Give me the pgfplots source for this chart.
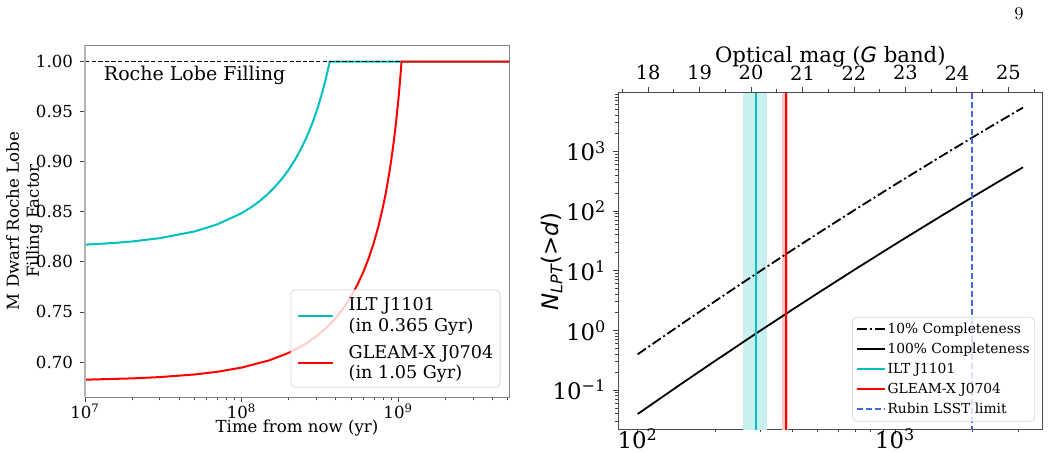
\documentclass[border=0pt]{standalone}
\usepackage{fontspec}
\setmainfont{DejaVu Serif}
\newfontfamily\dvsans{DejaVu Sans}
\newfontfamily\lmroman{Latin Modern Roman}
\usepackage{pgfplots}
\usepackage{pgfplotstable}
\pgfplotsset{compat=1.18}

\definecolor{mplcyan}{HTML}{00BFBF}
\definecolor{mplred}{HTML}{FF0000}
\definecolor{lsstblue}{HTML}{4169E1}
\definecolor{cyanband}{HTML}{C8F0F0}
\definecolor{redband}{HTML}{FFC8C8}

% Roche lobe filling factor versus time from now
\pgfplotstableread{
t f
1e7    0.8172
1.5e7  0.8188
2e7    0.8204
3e7    0.8237
5e7    0.8304
7e7    0.8375
1e8    0.8487
1.15e8 0.8545
1.3e8  0.8606
1.45e8 0.8669
1.6e8  0.8735
1.8e8  0.8826
2e8    0.8922
2.2e8  0.9024
2.4e8  0.9132
2.55e8 0.9217
2.7e8  0.9307
2.85e8 0.9400
3.0e8  0.9499
3.1e8  0.9568
3.2e8  0.9640
3.3e8  0.9714
3.4e8  0.9791
3.45e8 0.9831
3.5e8  0.9871
3.55e8 0.9913
3.6e8  0.9955
3.62e8 0.9972
3.65e8 1.0000
5.1e9  1.0000
}\iltfill

\pgfplotstableread{
t f
1e7     0.6823
2e7     0.6836
3e7     0.6849
5e7     0.6875
7e7     0.6902
1e8     0.6944
1.5e8   0.7016
2e8     0.7091
2.5e8   0.7171
3e8     0.7256
3.5e8   0.7346
4e8     0.7442
4.5e8   0.7545
5e8     0.7655
5.5e8   0.7774
6e8     0.7902
6.5e8   0.8042
7e8     0.8195
7.5e8   0.8364
8e8     0.8552
8.25e8  0.8654
8.5e8   0.8763
8.75e8  0.8879
9e8     0.9003
9.25e8  0.9136
9.5e8   0.9280
9.75e8  0.9436
1.0e9   0.9606
1.015e9 0.9715
1.03e9  0.9832
1.04e9  0.9913
1.05e9  1.0000
5.1e9   1.0000
}\gleamfill

% cumulative number of LPTs within distance d (pc)
\pgfplotstableread{
d    n100    n10
100  0.0396  0.396
150  0.1327  1.327
200  0.3084  3.084
300  0.9920  9.920
400  2.241   22.41
500  4.181   41.81
700  10.57   105.7
1000 27.73   277.3
1500 81.23   812.3
2000 171.7   1717
2500 304.4   3044
3133 539.0   5390
}\lptcount

\begin{document}
\begin{tikzpicture}
\useasboundingbox (0,0) rectangle (525pt,226pt);

% ---------------- left panel ----------------
\begin{axis}[
  at={(42.5pt,27.5pt)}, anchor=south west, scale only axis,
  width=212pt, height=176pt,
  xmode=log, xmin=1e7, xmax=5.1e9, ymin=0.665, ymax=1.0167,
  xtick={1e7,1e8,1e9},
  xticklabels={10\textsuperscript{7},10\textsuperscript{8},10\textsuperscript{9}},
  minor xtick={2e7,3e7,4e7,5e7,6e7,7e7,8e7,9e7,2e8,3e8,4e8,5e8,6e8,7e8,8e8,9e8,2e9,3e9,4e9,5e9},
  ytick={0.70,0.75,0.80,0.85,0.90,0.95,1.00},
  yticklabels={0.70,0.75,0.80,0.85,0.90,0.95,1.00},
  tick align=outside, xtick pos=left, ytick pos=left,
  major tick length=2.5pt, minor tick length=1.5pt,
  every tick/.style={black!75, line width=0.4pt},
  tick label style={font=\fontsize{8.3}{10}\selectfont},
  xticklabel style={yshift=2.5pt},
  axis line style={black!50, line width=0.5pt},
]
\addplot[mplcyan, line width=1pt] table[x=t, y=f] {\iltfill};
\addplot[black, line width=0.7pt, dash pattern=on 2.2pt off 1.1pt] coordinates {(1e7,1) (5.1e9,1)};
\addplot[mplred, line width=1pt] table[x=t, y=f] {\gleamfill};
\node[anchor=west, font=\fontsize{9.5}{11}\selectfont] at (rel axis cs:0.028,0.915) {Roche Lobe Filling};

% legend: two-line entries, key line between the two rows
\draw[black!15, fill=white, fill opacity=0.8, rounded corners=2pt]
  (rel axis cs:0.486,0.028) rectangle (rel axis cs:0.979,0.304);
\draw[mplcyan, line width=1pt] (rel axis cs:0.502,0.230) -- (rel axis cs:0.586,0.230);
\draw[mplred, line width=1pt] (rel axis cs:0.502,0.0974) -- (rel axis cs:0.586,0.0974);
\begin{scope}[every node/.style={anchor=base west, inner sep=0pt, font=\fontsize{8.8}{10.5}\selectfont}]
\node at (rel axis cs:0.621,0.246) {ILT J1101};
\node at (rel axis cs:0.621,0.1864) {(in 0.365 Gyr)};
\node at (rel axis cs:0.621,0.1105) {GLEAM-X J0704};
\node at (rel axis cs:0.621,0.0537) {(in 1.05 Gyr)};
\end{scope}
\end{axis}
\draw[black!30, line width=1pt] (42.5pt,27.5pt) -- (42.5pt,203.5pt);

\node[rotate=90, align=center, font=\fontsize{8.3}{10}\selectfont] at (12.25pt,115.5pt) {M Dwarf Roche Lobe\\Filling Factor};
\node[font=\fontsize{8.3}{10}\selectfont] at (148.5pt,11.8pt) {Time from now (yr)};

% ---------------- right panel ----------------
\begin{axis}[
  at={(309.15pt,11.35pt)}, anchor=south west, scale only axis,
  width=212pt, height=168.5pt,
  xmode=log, ymode=log, xmin=84.1, xmax=3724, ymin=0.02193, ymax=9727,
  xtick={100,1000},
  xticklabels={10\textsuperscript{2},10\textsuperscript{3}},
  minor xtick={200,300,400,500,600,700,800,900,2000,3000},
  ytick={0.1,1,10,100,1000},
  yticklabels={10\textsuperscript{−1},10\textsuperscript{0},10\textsuperscript{1},10\textsuperscript{2},10\textsuperscript{3}},
  minor ytick={0.03,0.04,0.05,0.06,0.07,0.08,0.09,0.2,0.3,0.4,0.5,0.6,0.7,0.8,0.9,2,3,4,5,6,7,8,9,20,30,40,50,60,70,80,90,200,300,400,500,600,700,800,900,2000,3000,4000,5000,6000,7000,8000,9000},
  tick align=outside, xtick pos=left, ytick pos=left,
  major tick length=2.5pt, minor tick length=1.5pt,
  every tick/.style={black!75, line width=0.4pt},
  tick label style={font=\fontsize{11.4}{13}\selectfont},
  xticklabel style={yshift=6.5pt},
  axis line style={black!70, line width=0.5pt},
  legend cell align=left,
  legend style={at={(0.983,0.0226)}, anchor=south east,
    draw=black!15, rounded corners=2pt, fill=white, fill opacity=0.8, text opacity=1,
    font=\fontsize{6.9}{8}\selectfont, inner sep=1.5pt, row sep=1pt,
    nodes={inner sep=1pt, text height=5.5pt, text depth=1.5pt}},
  legend image code/.code={\draw[#1] (0pt,0pt) -- (14pt,0pt);},
]
% uncertainty bands on the distances
\addplot[cyanband, line width=12pt, forget plot] coordinates {(285.9,0.005) (285.9,5e4)};
\addplot[redband, line width=3.35pt, forget plot] coordinates {(373.6,0.005) (373.6,5e4)};

\addplot[black, line width=0.9pt, dash pattern=on 5pt off 1.5pt on 1pt off 1.5pt] table[x=d, y=n10] {\lptcount};
\addlegendentry{10\% Completeness}
\addplot[black, line width=0.9pt] table[x=d, y=n100] {\lptcount};
\addlegendentry{100\% Completeness}
\addplot[mplcyan, line width=1pt] coordinates {(288.5,0.005) (288.5,5e4)};
\addlegendentry{ILT J1101}
\addplot[mplred, line width=1pt] coordinates {(377.6,0.005) (377.6,5e4)};
\addlegendentry{GLEAM-X J0704}
\addplot[lsstblue, line width=0.9pt, dash pattern=on 3pt off 1.5pt] coordinates {(1990,0.005) (1990,5e4)};
\addlegendentry{Rubin LSST limit}
\end{axis}

% optical magnitude scale along the top
\begin{axis}[
  at={(309.15pt,11.35pt)}, anchor=south west, scale only axis,
  width=212pt, height=168.5pt,
  xmin=17.42, xmax=25.66, ymin=0, ymax=1,
  axis x line*=top, axis y line=none,
  xtick={18,19,20,21,22,23,24,25},
  minor xtick={17.5,18.5,19.5,20.5,21.5,22.5,23.5,24.5,25.5},
  tick align=outside,
  major tick length=2.5pt, minor tick length=1.5pt,
  every tick/.style={black!75, line width=0.4pt},
  axis line style={black!70, line width=0.5pt},
  xticklabel style={font=\fontsize{9.7}{11}\selectfont},
  /pgf/number format/assume math mode=true,
]
\end{axis}

\node[rotate=90, font=\dvsans\fontsize{11.4}{13}\selectfont] at (275.85pt,95.25pt) {\itshape N\textsubscript{LPT}\upshape(>\itshape d\upshape)};
\node[font=\fontsize{10.6}{12}\selectfont] at (415.15pt,197.65pt) {Optical mag ({\dvsans\itshape G} band)};
\node[font=\lmroman\fontsize{9}{10}\selectfont] at (509.5pt,219pt) {9};
\end{tikzpicture}
\end{document}
